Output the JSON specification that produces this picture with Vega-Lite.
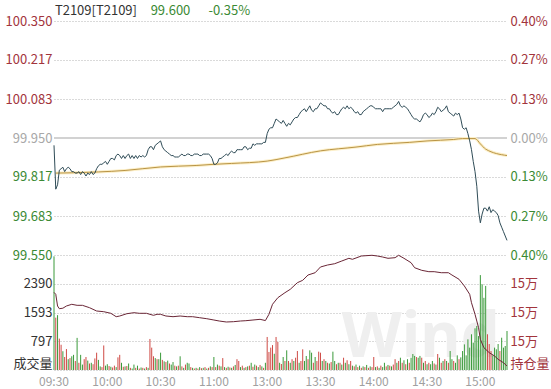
{
"$schema":"https://vega.github.io/schema/vega-lite/v6.json",
"padding":{"left":0,"top":5,"right":0,"bottom":20},
"spacing":0,
"bounds":"flush",
"config":{"view":{"stroke":null},"font":"Noto Sans CJK SC",
"axis":{"labelFont":"Noto Sans CJK SC","domain":false,"ticks":false,"title":null,"gridColor":"#b4b4b4","gridDash":[1,2],"gridWidth":1,"labelOverlap":false,"labelFlush":false}},
"datasets":{
"ref":[{"ref":99.95}],
"price":[{"m":0,"p":99.925},{"m":1,"p":99.775},{"m":2,"p":99.79},{"m":3,"p":99.84},{"m":4,"p":99.845},{"m":5,"p":99.85},{"m":6,"p":99.835},{"m":7,"p":99.845},{"m":8,"p":99.85},{"m":9,"p":99.845},{"m":10,"p":99.835},{"m":11,"p":99.835},{"m":12,"p":99.83},{"m":13,"p":99.83},{"m":14,"p":99.835},{"m":15,"p":99.825},{"m":16,"p":99.835},{"m":17,"p":99.83},{"m":18,"p":99.82},{"m":19,"p":99.83},{"m":20,"p":99.825},{"m":21,"p":99.835},{"m":22,"p":99.825},{"m":23,"p":99.83},{"m":24,"p":99.845},{"m":25,"p":99.855},{"m":26,"p":99.86},{"m":27,"p":99.86},{"m":28,"p":99.865},{"m":29,"p":99.87},{"m":30,"p":99.86},{"m":31,"p":99.87},{"m":32,"p":99.88},{"m":33,"p":99.88},{"m":34,"p":99.875},{"m":35,"p":99.89},{"m":36,"p":99.895},{"m":37,"p":99.89},{"m":38,"p":99.88},{"m":39,"p":99.89},{"m":40,"p":99.88},{"m":41,"p":99.89},{"m":42,"p":99.895},{"m":43,"p":99.88},{"m":44,"p":99.89},{"m":45,"p":99.88},{"m":46,"p":99.89},{"m":47,"p":99.88},{"m":48,"p":99.89},{"m":49,"p":99.885},{"m":50,"p":99.89},{"m":51,"p":99.885},{"m":52,"p":99.89},{"m":53,"p":99.91},{"m":54,"p":99.92},{"m":55,"p":99.92},{"m":56,"p":99.91},{"m":57,"p":99.925},{"m":58,"p":99.93},{"m":59,"p":99.935},{"m":60,"p":99.94},{"m":61,"p":99.92},{"m":62,"p":99.91},{"m":63,"p":99.905},{"m":64,"p":99.9},{"m":65,"p":99.895},{"m":66,"p":99.89},{"m":67,"p":99.89},{"m":68,"p":99.885},{"m":69,"p":99.885},{"m":70,"p":99.885},{"m":71,"p":99.89},{"m":72,"p":99.895},{"m":73,"p":99.89},{"m":74,"p":99.89},{"m":75,"p":99.895},{"m":76,"p":99.895},{"m":77,"p":99.89},{"m":78,"p":99.89},{"m":79,"p":99.895},{"m":80,"p":99.895},{"m":81,"p":99.895},{"m":82,"p":99.89},{"m":83,"p":99.89},{"m":84,"p":99.895},{"m":85,"p":99.895},{"m":86,"p":99.895},{"m":87,"p":99.895},{"m":88,"p":99.89},{"m":89,"p":99.88},{"m":90,"p":99.86},{"m":91,"p":99.86},{"m":92,"p":99.865},{"m":93,"p":99.88},{"m":94,"p":99.88},{"m":95,"p":99.885},{"m":96,"p":99.89},{"m":97,"p":99.895},{"m":98,"p":99.89},{"m":99,"p":99.9},{"m":100,"p":99.905},{"m":101,"p":99.9},{"m":102,"p":99.9},{"m":103,"p":99.91},{"m":104,"p":99.91},{"m":105,"p":99.91},{"m":106,"p":99.91},{"m":107,"p":99.92},{"m":108,"p":99.92},{"m":109,"p":99.91},{"m":110,"p":99.915},{"m":111,"p":99.915},{"m":112,"p":99.93},{"m":113,"p":99.925},{"m":114,"p":99.93},{"m":115,"p":99.93},{"m":116,"p":99.93},{"m":117,"p":99.93},{"m":118,"p":99.935},{"m":119,"p":99.935},{"m":120,"p":99.965},{"m":121,"p":99.98},{"m":122,"p":99.985},{"m":123,"p":99.985},{"m":124,"p":100.0},{"m":125,"p":100.015},{"m":126,"p":100.01},{"m":127,"p":100.005},{"m":128,"p":100.0},{"m":129,"p":100.01},{"m":130,"p":100.0},{"m":131,"p":99.99},{"m":132,"p":100.0},{"m":133,"p":99.995},{"m":134,"p":100.005},{"m":135,"p":100.015},{"m":136,"p":100.02},{"m":137,"p":100.02},{"m":138,"p":100.03},{"m":139,"p":100.04},{"m":140,"p":100.045},{"m":141,"p":100.05},{"m":142,"p":100.04},{"m":143,"p":100.05},{"m":144,"p":100.06},{"m":145,"p":100.045},{"m":146,"p":100.04},{"m":147,"p":100.05},{"m":148,"p":100.05},{"m":149,"p":100.06},{"m":150,"p":100.07},{"m":151,"p":100.065},{"m":152,"p":100.06},{"m":153,"p":100.06},{"m":154,"p":100.05},{"m":155,"p":100.05},{"m":156,"p":100.04},{"m":157,"p":100.035},{"m":158,"p":100.04},{"m":159,"p":100.03},{"m":160,"p":100.03},{"m":161,"p":100.04},{"m":162,"p":100.05},{"m":163,"p":100.055},{"m":164,"p":100.05},{"m":165,"p":100.06},{"m":166,"p":100.05},{"m":167,"p":100.055},{"m":168,"p":100.05},{"m":169,"p":100.04},{"m":170,"p":100.035},{"m":171,"p":100.04},{"m":172,"p":100.03},{"m":173,"p":100.03},{"m":174,"p":100.04},{"m":175,"p":100.045},{"m":176,"p":100.05},{"m":177,"p":100.055},{"m":178,"p":100.06},{"m":179,"p":100.06},{"m":180,"p":100.055},{"m":181,"p":100.05},{"m":182,"p":100.05},{"m":183,"p":100.05},{"m":184,"p":100.05},{"m":185,"p":100.04},{"m":186,"p":100.05},{"m":187,"p":100.05},{"m":188,"p":100.05},{"m":189,"p":100.05},{"m":190,"p":100.05},{"m":191,"p":100.055},{"m":192,"p":100.06},{"m":193,"p":100.065},{"m":194,"p":100.075},{"m":195,"p":100.06},{"m":196,"p":100.055},{"m":197,"p":100.06},{"m":198,"p":100.055},{"m":199,"p":100.05},{"m":200,"p":100.04},{"m":201,"p":100.03},{"m":202,"p":100.02},{"m":203,"p":100.015},{"m":204,"p":100.015},{"m":205,"p":100.01},{"m":206,"p":100.005},{"m":207,"p":100.015},{"m":208,"p":100.03},{"m":209,"p":100.035},{"m":210,"p":100.03},{"m":211,"p":100.02},{"m":212,"p":100.025},{"m":213,"p":100.035},{"m":214,"p":100.03},{"m":215,"p":100.04},{"m":216,"p":100.055},{"m":217,"p":100.05},{"m":218,"p":100.04},{"m":219,"p":100.045},{"m":220,"p":100.05},{"m":221,"p":100.06},{"m":222,"p":100.04},{"m":223,"p":100.035},{"m":224,"p":100.03},{"m":225,"p":100.025},{"m":226,"p":100.035},{"m":227,"p":100.03},{"m":228,"p":100.035},{"m":229,"p":100.015},{"m":230,"p":99.985},{"m":231,"p":99.98},{"m":232,"p":99.985},{"m":233,"p":99.965},{"m":234,"p":99.94},{"m":235,"p":99.91},{"m":236,"p":99.87},{"m":237,"p":99.835},{"m":238,"p":99.785},{"m":239,"p":99.7},{"m":240,"p":99.66},{"m":241,"p":99.69},{"m":242,"p":99.71},{"m":243,"p":99.71},{"m":244,"p":99.7},{"m":245,"p":99.715},{"m":246,"p":99.695},{"m":247,"p":99.705},{"m":248,"p":99.7},{"m":249,"p":99.695},{"m":250,"p":99.685},{"m":251,"p":99.66},{"m":252,"p":99.645},{"m":253,"p":99.63},{"m":254,"p":99.615},{"m":255,"p":99.6}],
"avg":[{"m":1,"a":99.83},{"m":10,"a":99.831},{"m":25,"a":99.834},{"m":40,"a":99.839},{"m":60,"a":99.851},{"m":80,"a":99.856},{"m":90,"a":99.86},{"m":100,"a":99.863},{"m":120,"a":99.871},{"m":130,"a":99.882},{"m":150,"a":99.906},{"m":170,"a":99.919},{"m":182,"a":99.928},{"m":200,"a":99.935},{"m":210,"a":99.94},{"m":225,"a":99.945},{"m":230,"a":99.948},{"m":237,"a":99.948},{"m":240,"a":99.93},{"m":243,"a":99.912},{"m":255,"a":99.89}],
"oi":[{"m":0,"oi":152700},{"m":1,"oi":152633},{"m":2,"oi":152226},{"m":3,"oi":152132},{"m":5,"oi":152150},{"m":7,"oi":152226},{"m":10,"oi":152285},{"m":13,"oi":152250},{"m":16,"oi":152250},{"m":20,"oi":152167},{"m":24,"oi":152052},{"m":28,"oi":152028},{"m":32,"oi":151972},{"m":35,"oi":151854},{"m":37,"oi":151878},{"m":41,"oi":151958},{"m":45,"oi":151993},{"m":48,"oi":151972},{"m":52,"oi":151972},{"m":56,"oi":151902},{"m":58,"oi":151937},{"m":60,"oi":151937},{"m":63,"oi":151878},{"m":67,"oi":151854},{"m":71,"oi":151878},{"m":75,"oi":151854},{"m":78,"oi":151854},{"m":82,"oi":151819},{"m":86,"oi":151784},{"m":90,"oi":151739},{"m":93,"oi":151704},{"m":97,"oi":151670},{"m":101,"oi":151680},{"m":105,"oi":151704},{"m":108,"oi":151715},{"m":112,"oi":151739},{"m":116,"oi":151763},{"m":119,"oi":151720},{"m":121,"oi":151937},{"m":123,"oi":152285},{"m":126,"oi":152515},{"m":130,"oi":152689},{"m":133,"oi":152807},{"m":137,"oi":153037},{"m":140,"oi":153120},{"m":143,"oi":153304},{"m":147,"oi":153384},{"m":150,"oi":153583},{"m":154,"oi":153652},{"m":158,"oi":153697},{"m":162,"oi":153791},{"m":166,"oi":153885},{"m":168,"oi":153850},{"m":173,"oi":153965},{"m":179,"oi":153990},{"m":182,"oi":153965},{"m":185,"oi":153930},{"m":188,"oi":153885},{"m":192,"oi":153906},{"m":194,"oi":153990},{"m":197,"oi":153885},{"m":201,"oi":153732},{"m":203,"oi":153558},{"m":207,"oi":153467},{"m":211,"oi":153420},{"m":214,"oi":153420},{"m":218,"oi":153384},{"m":222,"oi":153384},{"m":224,"oi":153304},{"m":228,"oi":153155},{"m":231,"oi":152922},{"m":234,"oi":152633},{"m":235,"oi":152341},{"m":237,"oi":151937},{"m":239,"oi":151471},{"m":240,"oi":151067},{"m":242,"oi":150776},{"m":245,"oi":150603},{"m":248,"oi":150487},{"m":250,"oi":150372},{"m":253,"oi":150254},{"m":255,"oi":150139}],
"vol":[{"m":0,"v":3150,"d":"d"},{"m":1,"v":1450,"d":"u"},{"m":2,"v":1520,"d":"d"},{"m":3,"v":870,"d":"u"},{"m":4,"v":700,"d":"u"},{"m":5,"v":520,"d":"d"},{"m":6,"v":360,"d":"u"},{"m":7,"v":580,"d":"u"},{"m":8,"v":300,"d":"d"},{"m":9,"v":330,"d":"u"},{"m":10,"v":380,"d":"d"},{"m":11,"v":420,"d":"d"},{"m":12,"v":250,"d":"u"},{"m":13,"v":890,"d":"d"},{"m":14,"v":200,"d":"u"},{"m":15,"v":420,"d":"d"},{"m":16,"v":150,"d":"d"},{"m":17,"v":300,"d":"u"},{"m":18,"v":360,"d":"u"},{"m":19,"v":260,"d":"d"},{"m":20,"v":180,"d":"u"},{"m":21,"v":200,"d":"d"},{"m":22,"v":160,"d":"u"},{"m":23,"v":320,"d":"u"},{"m":24,"v":480,"d":"u"},{"m":25,"v":280,"d":"d"},{"m":26,"v":100,"d":"d"},{"m":27,"v":80,"d":"u"},{"m":28,"v":680,"d":"u"},{"m":29,"v":120,"d":"d"},{"m":30,"v":160,"d":"d"},{"m":31,"v":110,"d":"u"},{"m":32,"v":90,"d":"d"},{"m":33,"v":70,"d":"u"},{"m":34,"v":120,"d":"u"},{"m":35,"v":80,"d":"d"},{"m":36,"v":350,"d":"u"},{"m":37,"v":420,"d":"u"},{"m":38,"v":200,"d":"d"},{"m":39,"v":90,"d":"u"},{"m":40,"v":100,"d":"d"},{"m":41,"v":110,"d":"u"},{"m":42,"v":180,"d":"d"},{"m":43,"v":60,"d":"u"},{"m":44,"v":40,"d":"d"},{"m":45,"v":150,"d":"d"},{"m":46,"v":60,"d":"u"},{"m":47,"v":120,"d":"d"},{"m":48,"v":40,"d":"u"},{"m":49,"v":70,"d":"d"},{"m":50,"v":60,"d":"u"},{"m":51,"v":40,"d":"d"},{"m":52,"v":80,"d":"u"},{"m":53,"v":60,"d":"d"},{"m":54,"v":860,"d":"u"},{"m":55,"v":620,"d":"u"},{"m":56,"v":380,"d":"u"},{"m":57,"v":330,"d":"d"},{"m":58,"v":300,"d":"u"},{"m":59,"v":300,"d":"d"},{"m":60,"v":480,"d":"d"},{"m":61,"v":280,"d":"u"},{"m":62,"v":240,"d":"d"},{"m":63,"v":220,"d":"u"},{"m":64,"v":260,"d":"d"},{"m":65,"v":180,"d":"u"},{"m":66,"v":150,"d":"d"},{"m":67,"v":220,"d":"d"},{"m":68,"v":120,"d":"u"},{"m":69,"v":100,"d":"d"},{"m":70,"v":120,"d":"u"},{"m":71,"v":380,"d":"d"},{"m":72,"v":100,"d":"u"},{"m":73,"v":60,"d":"d"},{"m":74,"v":150,"d":"u"},{"m":75,"v":200,"d":"d"},{"m":76,"v":180,"d":"d"},{"m":77,"v":80,"d":"u"},{"m":78,"v":60,"d":"d"},{"m":79,"v":40,"d":"u"},{"m":80,"v":60,"d":"d"},{"m":81,"v":40,"d":"u"},{"m":82,"v":80,"d":"d"},{"m":83,"v":50,"d":"u"},{"m":84,"v":60,"d":"d"},{"m":85,"v":80,"d":"u"},{"m":86,"v":40,"d":"d"},{"m":87,"v":60,"d":"u"},{"m":88,"v":100,"d":"d"},{"m":89,"v":80,"d":"u"},{"m":90,"v":360,"d":"d"},{"m":91,"v":80,"d":"u"},{"m":92,"v":150,"d":"d"},{"m":93,"v":120,"d":"u"},{"m":94,"v":100,"d":"d"},{"m":95,"v":330,"d":"u"},{"m":96,"v":80,"d":"d"},{"m":97,"v":60,"d":"u"},{"m":98,"v":90,"d":"d"},{"m":99,"v":70,"d":"u"},{"m":100,"v":60,"d":"d"},{"m":101,"v":100,"d":"u"},{"m":102,"v":140,"d":"d"},{"m":103,"v":300,"d":"u"},{"m":104,"v":250,"d":"u"},{"m":105,"v":80,"d":"d"},{"m":106,"v":120,"d":"u"},{"m":107,"v":60,"d":"d"},{"m":108,"v":80,"d":"u"},{"m":109,"v":100,"d":"d"},{"m":110,"v":120,"d":"u"},{"m":111,"v":200,"d":"d"},{"m":112,"v":90,"d":"u"},{"m":113,"v":150,"d":"d"},{"m":114,"v":120,"d":"u"},{"m":115,"v":80,"d":"d"},{"m":116,"v":140,"d":"u"},{"m":117,"v":100,"d":"d"},{"m":118,"v":60,"d":"u"},{"m":119,"v":200,"d":"d"},{"m":120,"v":915,"d":"u"},{"m":121,"v":500,"d":"u"},{"m":122,"v":620,"d":"u"},{"m":123,"v":690,"d":"u"},{"m":124,"v":450,"d":"d"},{"m":125,"v":915,"d":"u"},{"m":126,"v":780,"d":"u"},{"m":127,"v":200,"d":"d"},{"m":128,"v":166,"d":"u"},{"m":129,"v":360,"d":"d"},{"m":130,"v":250,"d":"u"},{"m":131,"v":545,"d":"d"},{"m":132,"v":250,"d":"u"},{"m":133,"v":200,"d":"d"},{"m":134,"v":300,"d":"u"},{"m":135,"v":250,"d":"d"},{"m":136,"v":340,"d":"u"},{"m":137,"v":526,"d":"u"},{"m":138,"v":200,"d":"d"},{"m":139,"v":250,"d":"u"},{"m":140,"v":573,"d":"u"},{"m":141,"v":250,"d":"d"},{"m":142,"v":388,"d":"d"},{"m":143,"v":300,"d":"u"},{"m":144,"v":545,"d":"d"},{"m":145,"v":480,"d":"d"},{"m":146,"v":200,"d":"u"},{"m":147,"v":360,"d":"d"},{"m":148,"v":250,"d":"u"},{"m":149,"v":508,"d":"u"},{"m":150,"v":480,"d":"u"},{"m":151,"v":250,"d":"d"},{"m":152,"v":300,"d":"u"},{"m":153,"v":250,"d":"d"},{"m":154,"v":200,"d":"u"},{"m":155,"v":180,"d":"d"},{"m":156,"v":220,"d":"u"},{"m":157,"v":508,"d":"d"},{"m":158,"v":250,"d":"d"},{"m":159,"v":160,"d":"u"},{"m":160,"v":200,"d":"d"},{"m":161,"v":200,"d":"u"},{"m":162,"v":150,"d":"d"},{"m":163,"v":340,"d":"u"},{"m":164,"v":200,"d":"d"},{"m":165,"v":270,"d":"u"},{"m":166,"v":160,"d":"d"},{"m":167,"v":250,"d":"u"},{"m":168,"v":120,"d":"d"},{"m":169,"v":100,"d":"u"},{"m":170,"v":150,"d":"d"},{"m":171,"v":80,"d":"u"},{"m":172,"v":120,"d":"d"},{"m":173,"v":60,"d":"u"},{"m":174,"v":100,"d":"d"},{"m":175,"v":80,"d":"u"},{"m":176,"v":140,"d":"d"},{"m":177,"v":60,"d":"u"},{"m":178,"v":100,"d":"d"},{"m":179,"v":80,"d":"u"},{"m":180,"v":360,"d":"u"},{"m":181,"v":80,"d":"d"},{"m":182,"v":100,"d":"u"},{"m":183,"v":60,"d":"d"},{"m":184,"v":120,"d":"u"},{"m":185,"v":80,"d":"d"},{"m":186,"v":200,"d":"d"},{"m":187,"v":100,"d":"u"},{"m":188,"v":140,"d":"d"},{"m":189,"v":120,"d":"u"},{"m":190,"v":100,"d":"d"},{"m":191,"v":150,"d":"u"},{"m":192,"v":300,"d":"u"},{"m":193,"v":200,"d":"d"},{"m":194,"v":250,"d":"u"},{"m":195,"v":340,"d":"d"},{"m":196,"v":200,"d":"u"},{"m":197,"v":270,"d":"d"},{"m":198,"v":160,"d":"u"},{"m":199,"v":300,"d":"d"},{"m":200,"v":200,"d":"u"},{"m":201,"v":340,"d":"d"},{"m":202,"v":443,"d":"d"},{"m":203,"v":390,"d":"d"},{"m":204,"v":360,"d":"u"},{"m":205,"v":340,"d":"d"},{"m":206,"v":390,"d":"d"},{"m":207,"v":340,"d":"u"},{"m":208,"v":200,"d":"d"},{"m":209,"v":250,"d":"u"},{"m":210,"v":160,"d":"d"},{"m":211,"v":200,"d":"u"},{"m":212,"v":160,"d":"d"},{"m":213,"v":250,"d":"d"},{"m":214,"v":180,"d":"u"},{"m":215,"v":150,"d":"d"},{"m":216,"v":443,"d":"u"},{"m":217,"v":340,"d":"d"},{"m":218,"v":200,"d":"u"},{"m":219,"v":250,"d":"d"},{"m":220,"v":300,"d":"u"},{"m":221,"v":250,"d":"d"},{"m":222,"v":200,"d":"u"},{"m":223,"v":526,"d":"d"},{"m":224,"v":300,"d":"d"},{"m":225,"v":250,"d":"u"},{"m":226,"v":200,"d":"d"},{"m":227,"v":406,"d":"d"},{"m":228,"v":300,"d":"u"},{"m":229,"v":350,"d":"d"},{"m":230,"v":526,"d":"d"},{"m":231,"v":710,"d":"d"},{"m":232,"v":406,"d":"d"},{"m":233,"v":850,"d":"d"},{"m":234,"v":620,"d":"d"},{"m":235,"v":990,"d":"d"},{"m":236,"v":757,"d":"d"},{"m":237,"v":1155,"d":"d"},{"m":238,"v":1220,"d":"d"},{"m":239,"v":940,"d":"d"},{"m":240,"v":2630,"d":"d"},{"m":241,"v":2375,"d":"d"},{"m":242,"v":2000,"d":"d"},{"m":243,"v":2330,"d":"d"},{"m":244,"v":990,"d":"u"},{"m":245,"v":720,"d":"u"},{"m":246,"v":526,"d":"u"},{"m":247,"v":406,"d":"d"},{"m":248,"v":620,"d":"d"},{"m":249,"v":573,"d":"d"},{"m":250,"v":720,"d":"d"},{"m":251,"v":526,"d":"u"},{"m":252,"v":895,"d":"d"},{"m":253,"v":620,"d":"d"},{"m":254,"v":665,"d":"d"},{"m":255,"v":1080,"d":"d"}],
"head":[{"label":"T2109[T2109]"}],
"last":[{"label":"99.600"}],
"chg":[{"label":"-0.35%"}],
"wm":[{"label":"Wind"}],
"ticks":[{"m":0,"t":"09:30"},{"m":30,"t":"10:00"},{"m":60,"t":"10:30"},{"m":90,"t":"11:00"},{"m":120,"t":"13:00"},{"m":150,"t":"13:30"},{"m":180,"t":"14:00"},{"m":210,"t":"14:30"},{"m":240,"t":"15:00"}]
},
"vconcat":[
{
"width":453,"height":234,
"layer":[
{"data":{"name":"ref"},"mark":{"type":"rule","color":"#d2d2d2","strokeWidth":2},
"encoding":{"y":{"field":"ref","type":"quantitative","scale":{"domain":[99.55,100.35],"nice":false,"zero":false},
"axis":{"orient":"left","values":[99.55,99.683333,99.816667,99.95,100.083333,100.216667,100.35],"format":".3f","grid":true,"labelFontSize":13,"labelPadding":2,"minExtent":54,"maxExtent":54,
"labelColor":{"condition":[{"test":"datum.value > 99.96","value":"#a2343c"},{"test":"datum.value < 99.94","value":"#3b8a34"}],"value":"#a8a8a8"}}}}},
{"data":{"name":"avg"},"mark":{"type":"line","color":"#fcefc8","strokeWidth":3,"interpolate":"monotone"},
"encoding":{"x":{"field":"m","type":"quantitative","scale":{"domain":[0,255],"nice":false,"zero":false},
"axis":{"values":[0,30,60,90,120,150,180,210,240,255],"grid":true,"labels":false,"labelPadding":0,"minExtent":0,"maxExtent":0}},
"y":{"field":"a","type":"quantitative","axis":null}}},
{"data":{"name":"avg"},"mark":{"type":"line","color":"#b99445","strokeWidth":1,"interpolate":"monotone"},
"encoding":{"x":{"field":"m","type":"quantitative","axis":null},"y":{"field":"a","type":"quantitative","axis":null}}},
{"data":{"name":"price"},"mark":{"type":"line","color":"#2f4c57","strokeWidth":1},
"encoding":{"x":{"field":"m","type":"quantitative","axis":null},
"y":{"field":"p","type":"quantitative","axis":{"orient":"right","values":[99.55,99.683333,99.816667,99.95,100.083333,100.216667,100.35],"grid":false,"labelFontSize":13,"labelPadding":3,
"labelExpr":"format(abs(datum.value - 99.95) / 99.95 * 100, '.2f') + '%'",
"labelColor":{"condition":[{"test":"datum.value > 99.96","value":"#a2343c"},{"test":"datum.value < 99.94","value":"#3b8a34"}],"value":"#a8a8a8"}}}}},
{"data":{"name":"head"},"mark":{"type":"text","align":"left","baseline":"middle","fontSize":13,"color":"#333333"},
"encoding":{"x":{"datum":0.5,"type":"quantitative","axis":null},"y":{"datum":100.384,"type":"quantitative","axis":null},"text":{"field":"label"}}},
{"data":{"name":"last"},"mark":{"type":"text","align":"left","baseline":"middle","fontSize":13,"color":"#3b8a34"},
"encoding":{"x":{"datum":54.4,"type":"quantitative","axis":null},"y":{"datum":100.384,"type":"quantitative","axis":null},"text":{"field":"label"}}},
{"data":{"name":"chg"},"mark":{"type":"text","align":"left","baseline":"middle","fontSize":13,"color":"#3b8a34"},
"encoding":{"x":{"datum":86.9,"type":"quantitative","axis":null},"y":{"datum":100.384,"type":"quantitative","axis":null},"text":{"field":"label"}}}
],
"resolve":{"axis":{"y":"independent"}}
},
{
"width":453,"height":115,
"layer":[
{"data":{"name":"wm"},"mark":{"type":"text","align":"left","baseline":"bottom","fontSize":62,"fontWeight":"bold","font":"Noto Sans","color":"#efefef"},
"encoding":{"x":{"datum":162,"type":"quantitative","scale":{"domain":[0,255],"nice":false,"zero":false},"axis":null},"y":{"datum":0,"type":"quantitative","scale":{"domain":[0,3187],"nice":false},"axis":null},"text":{"field":"label"}}},
{"data":{"name":"vol"},"mark":{"type":"rule","strokeWidth":1},
"encoding":{"x":{"field":"m","type":"quantitative","scale":{"domain":[0,255],"nice":false,"zero":false},
"axis":{"values":[0,30,60,90,120,150,180,210,240,255],"grid":true,"labels":false,"labelPadding":0,"minExtent":0,"maxExtent":0}},
"y":{"field":"v","type":"quantitative","scale":{"domain":[0,3187],"nice":false},
"axis":{"orient":"left","values":[0,797,1593,2390],"grid":true,"labelFontSize":13,"labelPadding":2,"minExtent":54,"maxExtent":54,"labelColor":"#333333",
"labelExpr":"datum.value == 0 ? '成交量' : format(datum.value, 'd')",
"labelBaseline":{"condition":{"test":"datum.value == 0","value":"bottom"},"value":"middle"}}},
"y2":{"datum":0},
"color":{"field":"d","type":"nominal","scale":{"domain":["u","d"],"range":["#cf4a45","#3a9a3a"]},"legend":null}}},
{"data":{"name":"oi"},"mark":{"type":"line","color":"#6a2636","strokeWidth":1},
"encoding":{"x":{"field":"m","type":"quantitative","axis":null},
"y":{"field":"oi","type":"quantitative","scale":{"domain":[150000,154000],"nice":false,"zero":false},
"axis":{"orient":"right","values":[150000,151000,152000,153000],"grid":false,"labelFontSize":13,"labelPadding":3,"labelColor":"#a2343c",
"labelExpr":"datum.value == 150000 ? '持仓量' : format(datum.value / 10000, '.0f') + '万'",
"labelBaseline":{"condition":{"test":"datum.value == 150000","value":"bottom"},"value":"middle"}}}}},
{"data":{"name":"ticks"},"mark":{"type":"text","align":"center","baseline":"middle","fontSize":12,"color":"#a0a0a0"},
"encoding":{"x":{"field":"m","type":"quantitative","axis":null},"y":{"datum":-335,"type":"quantitative","scale":{"domain":[0,3187],"nice":false},"axis":null},"text":{"field":"t"}}}
],
"resolve":{"scale":{"y":"independent"},"axis":{"y":"independent"}}
}
]
}
